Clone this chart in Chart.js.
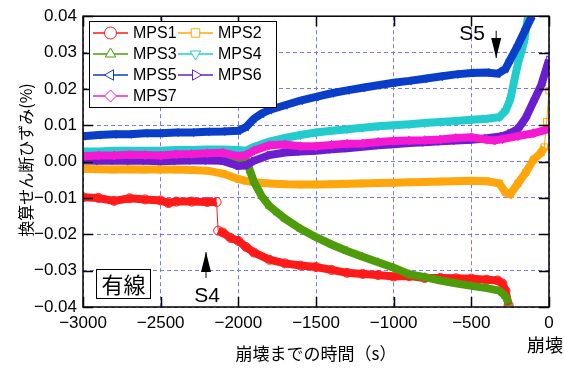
<!DOCTYPE html>
<html lang="ja">
  <head>
    <meta charset="UTF-8" />
    <title>換算せん断ひずみ</title>
    <style>
      body { margin: 0; padding: 0; background: #fff; }
      #chart { display: block; }
    </style>
  </head>
  <body>
    <canvas id="chart" width="564" height="369"></canvas>
    <script src="https://cdn.jsdelivr.net/npm/chart.js"></script>
    <script>
      // [time to collapse (s), converted shear strain (%)]
      const mps1 = [[-3000,-0.0098],[-2900,-0.0100],[-2800,-0.0108],[-2700,-0.0101],[-2600,-0.0104],[-2500,-0.0107],[-2450,-0.0114],[-2400,-0.0110],[-2300,-0.0110],[-2200,-0.0111],[-2140,-0.0111],[-2130,-0.0190],[-2100,-0.0195],[-2050,-0.0210],[-2000,-0.0218],[-1950,-0.0235],[-1900,-0.0250],[-1800,-0.0270],[-1700,-0.0280],[-1600,-0.0286],[-1500,-0.0290],[-1400,-0.0298],[-1300,-0.0306],[-1200,-0.0309],[-1100,-0.0312],[-1000,-0.0316],[-900,-0.0315],[-800,-0.0320],[-700,-0.0320],[-600,-0.0321],[-500,-0.0322],[-400,-0.0325],[-330,-0.0327],[-300,-0.0335],[-280,-0.0355],[-260,-0.0395]];
      const mps2 = [[-3000,-0.0020],[-2900,-0.0021],[-2800,-0.0022],[-2700,-0.0021],[-2600,-0.0022],[-2500,-0.0022],[-2400,-0.0022],[-2300,-0.0023],[-2200,-0.0025],[-2100,-0.0033],[-2000,-0.0048],[-1950,-0.0053],[-1900,-0.0057],[-1800,-0.0060],[-1700,-0.0062],[-1600,-0.0063],[-1500,-0.0063],[-1400,-0.0062],[-1300,-0.0061],[-1200,-0.0060],[-1100,-0.0059],[-1000,-0.0058],[-900,-0.0057],[-800,-0.0056],[-700,-0.0055],[-600,-0.0054],[-500,-0.0053],[-400,-0.0054],[-320,-0.0060],[-280,-0.0085],[-250,-0.0090],[-200,-0.0060],[-150,-0.0030],[-100,0.0005],[-50,0.0025],[-30,0.0040],[-15,0.0110],[0,0.0195]];
      const mps3 = [[-3000,0.0022],[-2900,0.0022],[-2800,0.0023],[-2700,0.0023],[-2600,0.0022],[-2500,0.0022],[-2400,0.0023],[-2300,0.0022],[-2200,0.0020],[-2100,0.0015],[-2000,0.0005],[-1950,0.0003],[-1925,-0.0025],[-1900,-0.0055],[-1850,-0.0095],[-1800,-0.0122],[-1750,-0.0140],[-1700,-0.0157],[-1600,-0.0185],[-1500,-0.0208],[-1400,-0.0228],[-1300,-0.0246],[-1200,-0.0262],[-1100,-0.0277],[-1000,-0.0292],[-900,-0.0310],[-800,-0.0318],[-700,-0.0327],[-600,-0.0335],[-500,-0.0342],[-400,-0.0348],[-320,-0.0355],[-280,-0.0370],[-260,-0.0390]];
      const mps4 = [[-3000,0.0028],[-2900,0.0028],[-2800,0.0030],[-2700,0.0030],[-2600,0.0030],[-2500,0.0030],[-2400,0.0032],[-2300,0.0032],[-2200,0.0033],[-2100,0.0033],[-2000,0.0032],[-1950,0.0030],[-1900,0.0040],[-1800,0.0055],[-1700,0.0065],[-1600,0.0073],[-1500,0.0080],[-1400,0.0085],[-1300,0.0089],[-1200,0.0093],[-1100,0.0097],[-1000,0.0100],[-900,0.0103],[-800,0.0106],[-700,0.0109],[-600,0.0112],[-500,0.0115],[-400,0.0118],[-320,0.0122],[-280,0.0140],[-250,0.0170],[-200,0.0270],[-160,0.0330],[-135,0.0400]];
      const mps5 = [[-3000,0.0070],[-2900,0.0073],[-2800,0.0075],[-2700,0.0075],[-2600,0.0078],[-2500,0.0078],[-2400,0.0080],[-2300,0.0080],[-2200,0.0082],[-2100,0.0083],[-2000,0.0085],[-1950,0.0095],[-1900,0.0118],[-1850,0.0132],[-1800,0.0142],[-1700,0.0155],[-1600,0.0168],[-1500,0.0178],[-1400,0.0188],[-1300,0.0196],[-1200,0.0203],[-1100,0.0210],[-1000,0.0217],[-900,0.0222],[-800,0.0228],[-700,0.0234],[-600,0.0240],[-500,0.0244],[-400,0.0245],[-330,0.0242],[-280,0.0255],[-250,0.0280],[-200,0.0320],[-150,0.0365],[-110,0.0400]];
      const mps6 = [[-3000,0.0003],[-2900,0.0002],[-2800,0.0003],[-2700,0.0002],[-2600,0.0002],[-2500,0.0001],[-2400,0.0002],[-2300,0.0003],[-2200,0.0003],[-2100,0.0002],[-2000,-0.0012],[-1950,-0.0010],[-1900,0.0002],[-1800,0.0018],[-1700,0.0025],[-1600,0.0028],[-1500,0.0030],[-1400,0.0034],[-1300,0.0037],[-1200,0.0041],[-1100,0.0045],[-1000,0.0048],[-900,0.0051],[-800,0.0053],[-700,0.0056],[-600,0.0058],[-500,0.0060],[-400,0.0064],[-300,0.0070],[-250,0.0078],[-200,0.0090],[-150,0.0120],[-100,0.0165],[-50,0.0210],[0,0.0280]];
      const mps7 = [[-3000,0.0015],[-2900,0.0017],[-2800,0.0017],[-2700,0.0019],[-2600,0.0018],[-2500,0.0017],[-2400,0.0020],[-2300,0.0021],[-2200,0.0023],[-2100,0.0024],[-2000,0.0015],[-1950,0.0018],[-1900,0.0030],[-1800,0.0045],[-1700,0.0047],[-1600,0.0042],[-1500,0.0042],[-1400,0.0046],[-1300,0.0049],[-1200,0.0050],[-1100,0.0054],[-1000,0.0057],[-900,0.0058],[-800,0.0059],[-700,0.0061],[-600,0.0065],[-500,0.0067],[-400,0.0060],[-350,0.0058],[-300,0.0062],[-200,0.0070],[-100,0.0078],[0,0.0090]];

      const seriesNames = ["MPS1", "MPS2", "MPS3", "MPS4", "MPS5", "MPS6", "MPS7"];
      const seriesData = [mps1, mps2, mps3, mps4, mps5, mps6, mps7];
      const colors = ["#ff1a1a", "#ffa60d", "#4e9c0a", "#22cccc", "#0b3ec8", "#6a1ed0", "#f51ad2"];
      const markers = [["circle", 0], ["rect", 0], ["triangle", 0], ["triangle", 180], ["triangle", 270], ["triangle", 90], ["rectRot", 0]];

      const xTicks = { min: -3000, max: 0, step: 500 };
      const yTicks = { min: -0.04, max: 0.04, step: 0.01 };

      const FONT = '"Liberation Sans", "Noto Sans CJK JP", sans-serif';
      const JP = '"Noto Sans CJK JP", sans-serif';

      const minus = (s) => s.replace("-", "\u2212");

      const datasets = seriesData.map((pts, i) => ({
        label: seriesNames[i],
        data: pts.map((p) => ({ x: p[0], y: p[1] })),
        borderColor: colors[i],
        borderWidth: 8,
        pointStyle: markers[i][0],
        pointRotation: markers[i][1],
        pointRadius: 4.5,
        pointBorderWidth: 1,
        pointBorderColor: colors[i],
        pointBackgroundColor: "rgba(255,255,255,0)",
        order: 7 - i,
        segment: {
          borderWidth: (ctx) =>
            Math.abs(ctx.p1.parsed.y - ctx.p0.parsed.y) > 0.005 &&
            Math.abs(ctx.p1.parsed.x - ctx.p0.parsed.x) < 20
              ? 1
              : undefined,
        },
      }));

      const decorations = {
        id: "decorations",
        afterDraw(chart) {
          const { ctx, chartArea: a, scales } = chart;
          const xs = scales.x, ys = scales.y;
          ctx.save();

          // inward tick marks and frame
          ctx.strokeStyle = "#000";
          ctx.lineWidth = 1.5;
          for (let v = xTicks.min; v <= xTicks.max; v += xTicks.step) {
            const px = Math.round(xs.getPixelForValue(v)) + 0.5;
            ctx.beginPath();
            ctx.moveTo(px, a.bottom); ctx.lineTo(px, a.bottom - 10);
            ctx.moveTo(px, a.top); ctx.lineTo(px, a.top + 10);
            ctx.stroke();
          }
          for (let k = 0; k <= 8; k++) {
            const v = yTicks.min + k * yTicks.step;
            const py = Math.round(ys.getPixelForValue(v)) + 0.5;
            ctx.beginPath();
            ctx.moveTo(a.left, py); ctx.lineTo(a.left + 10, py);
            ctx.moveTo(a.right, py); ctx.lineTo(a.right - 10, py);
            ctx.stroke();
          }
          ctx.strokeRect(a.left, a.top, a.right - a.left, a.bottom - a.top);

          // legend
          const lx = 89.5, ly = 21.5, lw = 187, lh = 86;
          ctx.fillStyle = "#fff";
          ctx.fillRect(lx, ly, lw, lh);
          ctx.lineWidth = 1;
          ctx.strokeRect(lx, ly, lw, lh);
          ctx.font = "16px " + FONT;
          ctx.textBaseline = "middle";
          chart.data.datasets.forEach((ds, i) => {
            const col = i % 2, row = Math.floor(i / 2);
            const x0 = col ? 178 : 93;
            const y = 33 + row * 21;
            ctx.strokeStyle = ds.borderColor;
            ctx.lineWidth = 1.5;
            ctx.beginPath();
            ctx.moveTo(x0, y); ctx.lineTo(x0 + 35, y);
            ctx.stroke();
            ctx.fillStyle = "#fff";
            ctx.lineWidth = 1;
            Chart.helpers.drawPoint(ctx, { pointStyle: ds.pointStyle, rotation: ds.pointRotation, radius: 6, borderWidth: 1 }, x0 + 17.5, y);
            ctx.fillStyle = "#000";
            ctx.textAlign = "left";
            ctx.fillText(ds.label, x0 + 40, y + 1);
          });

          // arrows
          const arrow = (t, vTail, vTip) => {
            const px = xs.getPixelForValue(t);
            const yTail = ys.getPixelForValue(vTail), yTip = ys.getPixelForValue(vTip);
            const dir = yTip > yTail ? 1 : -1;
            ctx.strokeStyle = "#000";
            ctx.lineWidth = 1;
            ctx.beginPath();
            ctx.moveTo(px, yTail); ctx.lineTo(px, yTip);
            ctx.stroke();
            ctx.fillStyle = "#000";
            ctx.beginPath();
            ctx.moveTo(px, yTip);
            ctx.lineTo(px - 5, yTip - dir * 20);
            ctx.lineTo(px + 5, yTip - dir * 20);
            ctx.closePath();
            ctx.fill();
          };
          arrow(-340, 0.036, 0.0285);
          arrow(-2208, -0.032, -0.0249);

          ctx.fillStyle = "#000";
          ctx.font = "21px " + FONT;
          ctx.textAlign = "center";
          ctx.fillText("S5", 472, 34);
          ctx.fillText("S4", 207, 296);

          // 有線 box
          ctx.fillStyle = "#fff";
          ctx.fillRect(96.5, 269.5, 54, 29);
          ctx.strokeStyle = "#000";
          ctx.lineWidth = 1;
          ctx.strokeRect(96.5, 269.5, 54, 29);
          ctx.fillStyle = "#000";
          ctx.font = "22px " + JP;
          ctx.fillText("有線", 123.5, 285);

          // axis titles
          ctx.font = "17px " + JP;
          ctx.fillText("崩壊までの時間（s）", 316, 354);
          ctx.font = "18px " + JP;
          ctx.fillText("崩壊", 545, 345);
          ctx.save();
          ctx.translate(26, 160);
          ctx.rotate(-Math.PI / 2);
          ctx.font = "16px " + JP;
          ctx.fillText("換算せん断ひずみ(%)", 0, 0);
          ctx.restore();

          ctx.restore();
        },
      };

      new Chart(document.getElementById("chart"), {
        type: "line",
        data: { datasets },
        options: {
          responsive: false,
          animation: false,
          devicePixelRatio: 1,
          layout: { padding: { left: 0, right: 15, top: 15, bottom: 0 } },
          plugins: { legend: { display: false }, tooltip: { enabled: false } },
          scales: {
            x: {
              type: "linear",
              min: xTicks.min,
              max: xTicks.max,
              afterFit: (s) => { s.height = 62; },
              ticks: {
                stepSize: xTicks.step,
                color: "#000",
                padding: 6,
                maxRotation: 0,
                font: { family: FONT, size: 17 },
                callback: (v) => minus(String(v)),
              },
              grid: { color: "#7878ff", lineWidth: 1, drawTicks: false },
              border: { display: false, dash: [4, 3] },
            },
            y: {
              min: yTicks.min,
              max: yTicks.max,
              afterFit: (s) => { s.width = 83; },
              ticks: {
                stepSize: yTicks.step,
                color: "#000",
                padding: 6,
                font: { family: FONT, size: 17 },
                callback: (v) => {
                  const s = Number(v).toFixed(2);
                  return s === "-0.00" ? "0.00" : minus(s);
                },
              },
              grid: { color: "#7878ff", lineWidth: 1, drawTicks: false },
              border: { display: false, dash: [4, 3] },
            },
          },
        },
        plugins: [decorations],
      });
    </script>
  </body>
</html>
